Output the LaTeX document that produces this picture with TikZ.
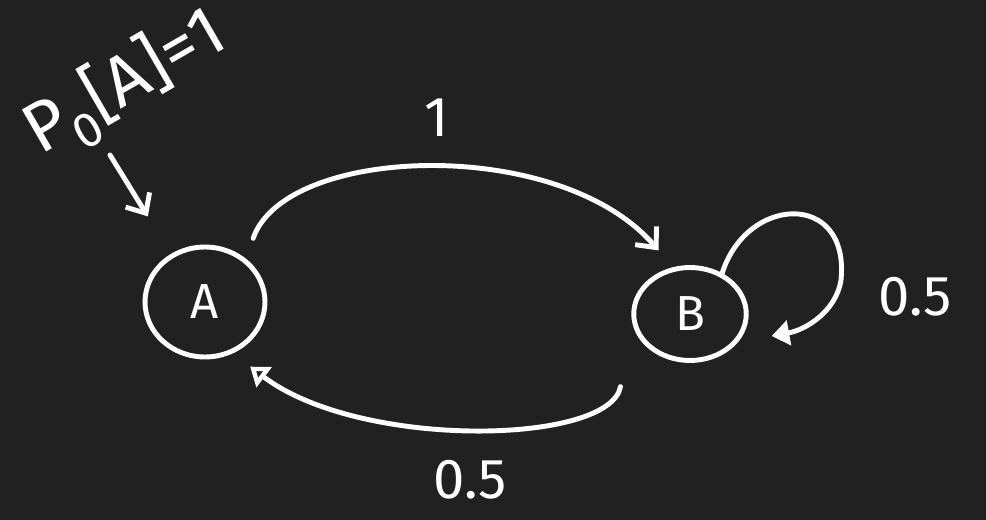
\documentclass[tikz,border=0pt]{standalone}
\usepackage{fontspec}
\setsansfont{Fira Sans}
\usetikzlibrary{shapes.geometric,arrows.meta,calc}

\definecolor{board}{HTML}{222121}

\begin{document}
\begin{tikzpicture}[
  x=0.02cm, y=-0.02cm,
  ink/.style={draw=white, line width=2.8pt, line cap=round, line join=round},
  state/.style={ink, ellipse, inner sep=0pt, text=white,
    font=\sffamily\fontsize{28}{30}\selectfont},
  chalk/.style={text=white, font=\sffamily\fontsize{32}{36}\selectfont},
  barb/.style={ink, -{Straight Barb[length=9pt,width=16pt]}},
  tri/.style={ink, -{Triangle[open,length=10pt,width=14pt]}},
  fill tri/.style={ink, -{Triangle[length=10pt,width=14pt]}}
]
\fill[board] (0,0) rectangle (986,520);
\useasboundingbox (0,0) rectangle (986,520);

% the two states
\node[state, minimum width=2.4cm, minimum height=2.2cm] (A) at (205,302) {A};
\node[state, minimum width=2.25cm, minimum height=1.86cm] (B) at (690,314) {B};

% initial distribution
\node[chalk, rotate=30, font=\sffamily\fontsize{40}{42}\selectfont]
  (init) at (126,84) {P\textsubscript{0}[A]=1};
\coordinate (p0) at (110,155);
\draw[barb] (p0) -- ([shift={(-13,-45)}]A.north west);

% A -> B
\draw[barb] ($(A.north east)+(4,-23)$)
  .. controls (285,145) and (560,135) .. ($(B.north west)+(10,-29)$);
\node[chalk] (lab1) at (437,118) {1};

% B -> A
\draw[tri] ($(B.south west)+(-28,38)$)
  .. controls (610,445) and (360,450) .. ($(A.south east)+(1,24)$);
\node[chalk] (lab2) at (470,480) {0.5};

% self loop on B
\draw[fill tri] ($(B.north east)+(-10,-4)$)
  .. controls (745,195) and (850,190) .. (841,280)
  .. controls (836,312) and (805,330) .. ($(B.east)+(23,22)$);
\node[chalk] (lab3) at (915,297) {0.5};
\end{tikzpicture}
\end{document}
